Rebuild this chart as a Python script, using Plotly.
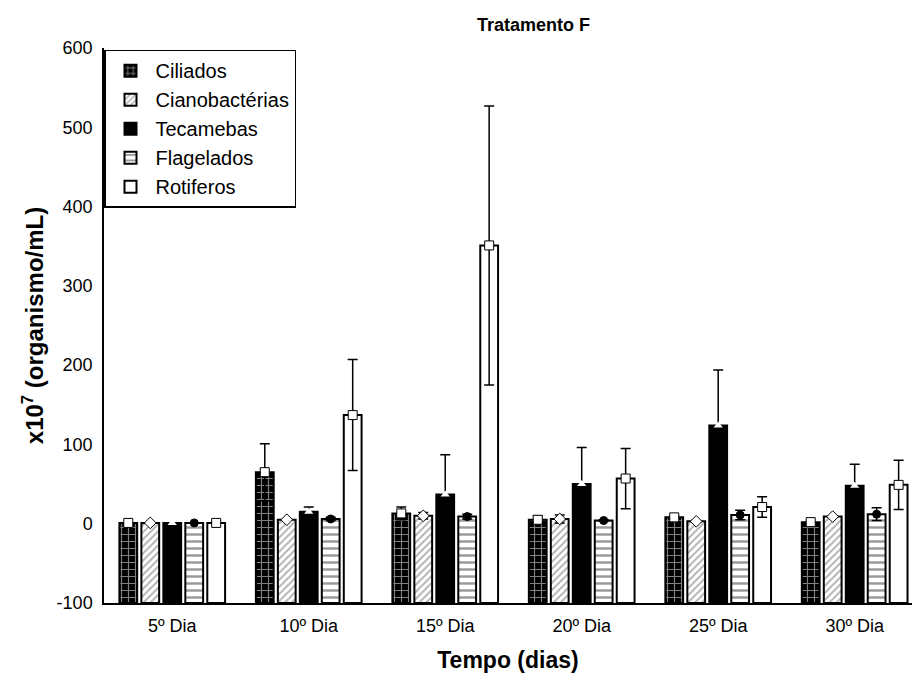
import plotly.graph_objects as go

categories = ["5º Dia", "10º Dia", "15º Dia", "20º Dia", "25º Dia", "30º Dia"]
series_names = ["Ciliados", "Cianobactérias", "Tecamebas", "Flagelados", "Rotiferos"]

ciliados = [1, 65, 13, 5, 8, 2]
ciliados_err = [0, 36, 8, 5, 2, 0]
cianobacterias = [1, 5, 10, 6, 3, 9]
cianobacterias_err = [0, 0, 4, 5, 1, 1]
tecamebas = [1, 15, 37, 50, 124, 48]
tecamebas_err = [0, 6, 50, 46, 70, 27]
flagelados = [1, 6, 9, 4, 11, 12]
flagelados_err = [0, 2, 3, 1, 6, 8]
rotiferos = [1, 137, 351, 57, 21, 49]
rotiferos_err = [0, 70, 176, 38, 13, 31]

y_tick_values = [-100, 0, 100, 200, 300, 400, 500, 600]
y_tick_labels = ["-100", "0", "100", "200", "300", "400", "500", "600"]

baseline = -100

values = [ciliados, cianobacterias, tecamebas, flagelados, rotiferos]
errors = [ciliados_err, cianobacterias_err, tecamebas_err, flagelados_err, rotiferos_err]

bar_styles = [
    dict(color="black", pattern=dict(shape="+", fgcolor="white", bgcolor="black", size=7, solidity=0.3)),
    dict(color="white", pattern=dict(shape="/", fgcolor="#666666", bgcolor="white", size=5, solidity=0.4)),
    dict(color="black"),
    dict(color="white", pattern=dict(shape="-", fgcolor="#333333", bgcolor="white", size=7, solidity=0.35)),
    dict(color="white"),
]
marker_styles = [
    dict(symbol="square", color="white", size=9, line=dict(color="black", width=1)),
    dict(symbol="diamond", color="white", size=9, line=dict(color="black", width=1)),
    dict(symbol="triangle-up", color="white", size=8, line=dict(color="black", width=0)),
    dict(symbol="circle", color="black", size=8, line=dict(color="black", width=1)),
    dict(symbol="square", color="white", size=9, line=dict(color="black", width=1)),
]

fig = go.Figure()
for name, vals, st in zip(series_names, values, bar_styles):
    fig.add_trace(go.Bar(
        x=categories, y=[v - baseline for v in vals], base=baseline, name=name,
        marker=dict(line=dict(color="black", width=2), **st),
        legendgroup=name, hoverinfo="skip",
    ))
for name, vals, errs, ms in zip(series_names, values, errors, marker_styles):
    fig.add_trace(go.Scatter(
        x=categories, y=vals, mode="markers", name=name, showlegend=False,
        legendgroup=name, marker=ms, hoverinfo="skip",
        error_y=dict(type="data", array=errs, visible=True, color="black", thickness=1.5, width=5),
    ))

font_family = "Liberation Sans, Arial, sans-serif"
fig.update_layout(
    width=912, height=682,
    margin=dict(l=104, r=0, t=48, b=79),
    paper_bgcolor="white", plot_bgcolor="white",
    barmode="group", bargap=0.195, bargroupgap=0.19,
    scattermode="group", scattergap=0.195,
    font=dict(family=font_family, size=18, color="black"),
    title=dict(text="<b>Tratamento F</b>", x=0.585, xanchor="center", y=1 - 25 / 682, yanchor="middle",
               font=dict(size=18, family=font_family)),
    legend=dict(x=0.0, y=0.997, xanchor="left", yanchor="top", bordercolor="black", borderwidth=1.5,
                bgcolor="white", font=dict(size=20), tracegroupgap=0, itemwidth=40),
    xaxis=dict(range=[-0.5, 5.42], showline=True, linecolor="black", linewidth=1.5, ticks="",
               showgrid=False, tickfont=dict(size=18), automargin=False, ticklabelstandoff=6,
               title=dict(text="<b>Tempo (dias)</b>", standoff=17, font=dict(size=23))),
    yaxis=dict(range=[-100, 600], tickvals=y_tick_values, ticktext=y_tick_labels, showline=True,
               linecolor="black", linewidth=1.5, automargin=False, ticklabelstandoff=6,
               ticks="", showgrid=False, zeroline=False, tickfont=dict(size=18),
               title=dict(text="<b>x10<sup>7</sup> (organismo/mL)</b>", standoff=6, font=dict(size=24))),
)

fig.write_html("out.html", config={"displayModeBar": False},
               post_script="document.body.style.margin='0';")
